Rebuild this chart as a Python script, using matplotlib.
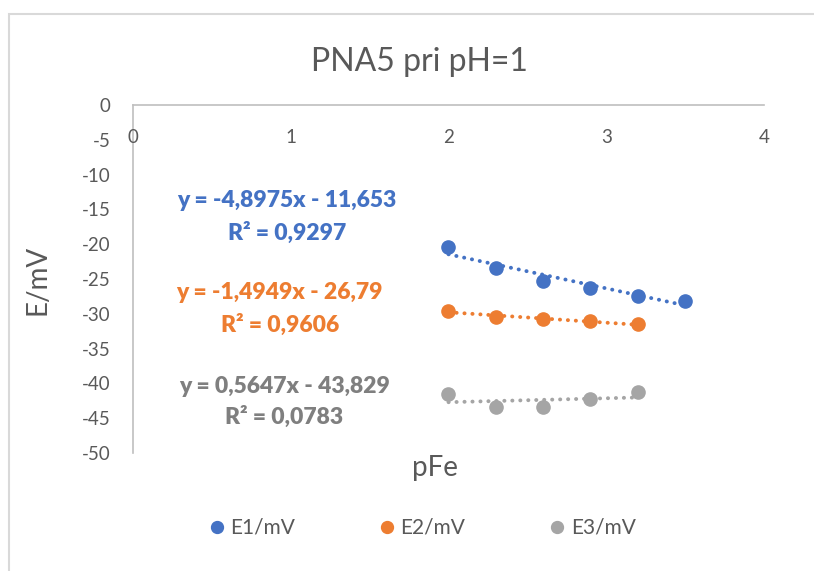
import numpy as np
import matplotlib
matplotlib.use("Agg")
import matplotlib.pyplot as plt
from matplotlib.patches import Rectangle

plt.rcParams["font.family"] = ["Lato", "DejaVu Sans"]
plt.rcParams["axes.unicode_minus"] = False

# data
pfe = [2.0, 2.3, 2.6, 2.9, 3.2, 3.5]
e1 = [-20.45, -23.35, -25.35, -26.25, -27.45, -28.15]
e2 = [-29.6, -30.4, -30.8, -31.1, -31.5]
e3 = [-41.55, -43.35, -43.45, -42.25, -41.25]
series_names = ["E1/mV", "E2/mV", "E3/mV"]

# trendline coefficients as printed on the chart
slopes = [-4.8975, -1.4949, 0.5647]
intercepts = [-11.653, -26.79, -43.829]
r2 = ["0,9297", "0,9606", "0,0783"]
eq_labels = ["y = -4,8975x - 11,653", "y = -1,4949x - 26,79", "y = 0,5647x - 43,829"]

colors = ["#4472C4", "#ED7D31", "#A5A5A5"]
text_colors = ["#4472C4", "#ED7D31", "#7F7F7F"]
txt = "#595959"

fig = plt.figure(figsize=(8.14, 5.71), dpi=100)
ax = fig.add_axes([133 / 814, 1 - 453 / 571, 631 / 814, 348 / 571])

ys = [e1, e2, e3]
for i, y in enumerate(ys):
    x = np.array(pfe[:len(y)])
    ax.plot(x, y, "o", color=colors[i], markersize=9.5, label=series_names[i],
            zorder=3, clip_on=False)
    xl = np.array([x[0], x[-1]])
    ax.plot(xl, slopes[i] * xl + intercepts[i], color=colors[i], lw=2.8,
            linestyle=(0, (0.05, 2.0)), dash_capstyle="round", zorder=2)

ax.set_xlim(0, 4)
ax.set_ylim(-50, 0)
ax.set_yticks(np.arange(-50, 1, 5))
ax.set_xticks([])
for xv in range(5):
    ax.text(xv, -4.6, str(xv), ha="center", va="center", fontsize=13.5, color=txt)

ax.tick_params(axis="y", length=0, pad=16, labelsize=13.5, labelcolor=txt)
for s in ["right", "bottom"]:
    ax.spines[s].set_visible(False)
for s in ["left", "top"]:
    ax.spines[s].set_color("#BFBFBF")
    ax.spines[s].set_linewidth(1.2)

# trendline labels
eq_pos = [(0.975, -13.65, -18.4), (0.93, -26.9, -31.6), (0.96, -40.4, -44.8)]
for i, (xp, y1, y2) in enumerate(eq_pos):
    ax.text(xp, y1, eq_labels[i], ha="center", va="center", fontsize=16.5,
            fontweight="heavy", color=text_colors[i])
    ax.text(xp, y2, "R² = " + r2[i], ha="center", va="center", fontsize=16.5,
            fontweight="heavy", color=text_colors[i])

fig.text(419 / 814, 1 - 62 / 571, "PNA5 pri pH=1", ha="center", va="center",
         fontsize=23, color=txt)
fig.text(38 / 814, 1 - 280 / 571, "E/mV", ha="center", va="center",
         rotation=90, fontsize=20, color=txt)
fig.text(435 / 814, 1 - 468 / 571, "pFe", ha="center", va="center",
         fontsize=20, color=txt)

fig.legend(loc="center", bbox_to_anchor=(421 / 814, 1 - 528 / 571), ncol=3,
           frameon=False, fontsize=15, labelcolor=txt, handletextpad=0.15,
           columnspacing=3.9, markerscale=0.9, handlelength=1.0)

fig.patches.append(Rectangle((9 / 814, -0.1), 1.0, 1 - 14 / 571 + 0.1,
                             transform=fig.transFigure, fill=False,
                             edgecolor="#D9D9D9", lw=1.5))

fig.savefig("out.png", dpi=100)
